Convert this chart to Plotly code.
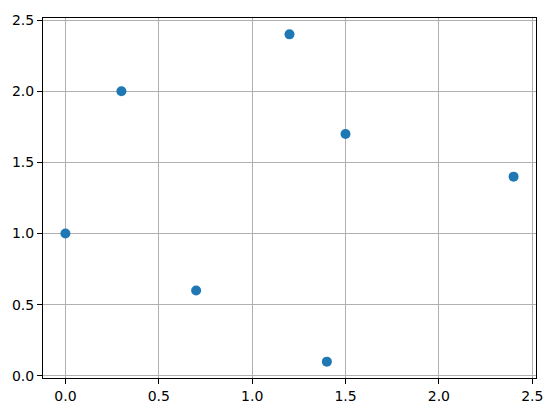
import plotly.graph_objects as go

x_values = [0.0, 0.3, 0.7, 1.2, 1.4, 1.5, 2.4]
y_values = [1.0, 2.0, 0.6, 2.4, 0.1, 1.7, 1.4]
x_ticks = [0.0, 0.5, 1.0, 1.5, 2.0, 2.5]
y_ticks = [0.0, 0.5, 1.0, 1.5, 2.0, 2.5]

fig = go.Figure()
fig.add_trace(go.Scatter(
    x=x_values, y=y_values, mode="markers",
    marker=dict(color="#1f77b4", size=10, line=dict(width=0)),
))

axis_common = dict(
    showgrid=True, gridcolor="#b0b0b0", gridwidth=1,
    zeroline=False, showline=True, linecolor="black", linewidth=1, mirror=True,
    ticks="outside", ticklen=5, tickwidth=1, tickcolor="black",
    tickfont=dict(family="DejaVu Sans", size=14, color="black"),
)

fig.update_layout(
    width=555, height=416,
    margin=dict(l=42, r=17, t=13, b=34),
    plot_bgcolor="white", paper_bgcolor="white",
    showlegend=False,
    xaxis=dict(range=[-0.12, 2.52], tickvals=x_ticks,
               ticktext=[f"{v:.1f}" for v in x_ticks], **axis_common),
    yaxis=dict(range=[-0.015, 2.515], tickvals=y_ticks,
               ticktext=[f"{v:.1f}" for v in y_ticks], **axis_common),
)

post = (
    "document.documentElement.style.margin='0';"
    "document.documentElement.style.padding='0';"
    "document.documentElement.style.overflow='hidden';"
    "document.body.style.margin='0';"
    "document.body.style.padding='0';"
    "document.body.style.overflow='hidden';"
    "var d=document.getElementById('{plot_id}');"
    "d.style.display='block';"
    "d.parentElement.style.height='416px';"
    "d.parentElement.style.width='555px';"
    "d.parentElement.style.overflow='hidden';"
)

fig.write_html(
    "out.html",
    config={"displayModeBar": False},
    post_script=post,
)
